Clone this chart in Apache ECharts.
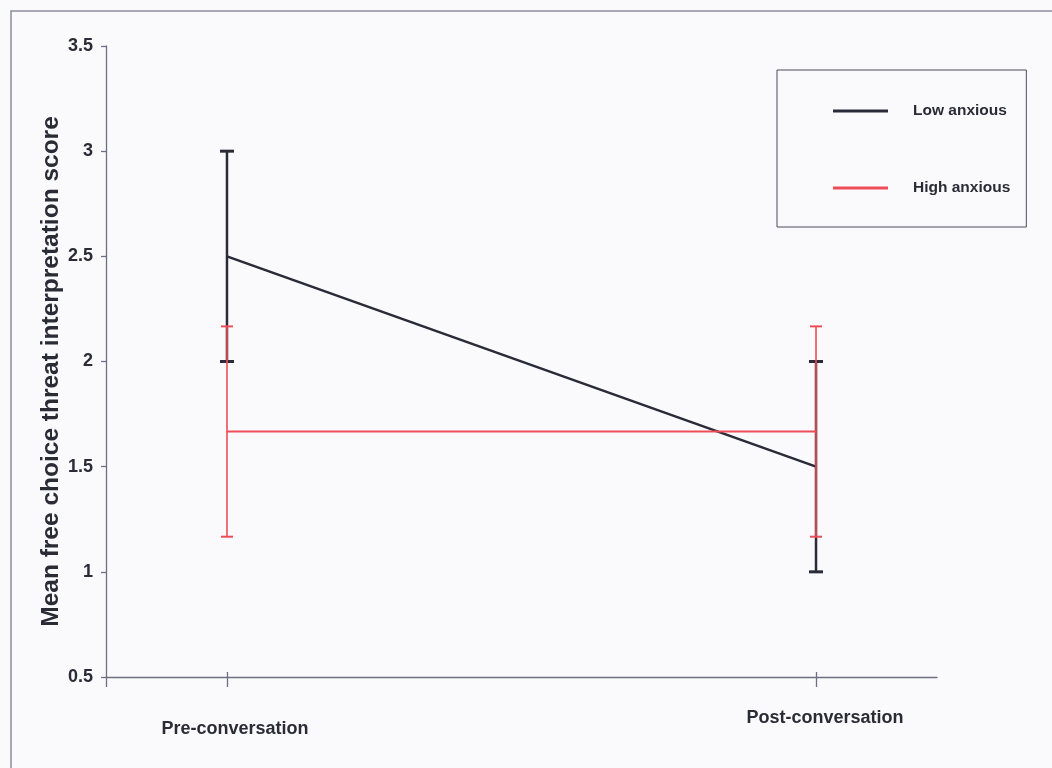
<!DOCTYPE html>
<html>
<head>
<meta charset="utf-8">
<script src="https://cdn.jsdelivr.net/npm/echarts@6/dist/echarts.min.js"></script>
<style>
  html, body { margin: 0; padding: 0; background: #fafafd; }
  #chart { width: 1052px; height: 768px; }
</style>
</head>
<body>
<div id="chart"></div>
<script>
// Conditions on the horizontal axis
const categories = ['Pre-conversation', 'Post-conversation'];
// Group names shown in the legend
const seriesNames = ['Low anxious', 'High anxious'];
// Group means and error-bar half widths per condition
const lowMeans = [2.5, 1.5];
const lowErrors = [0.5, 0.5];
const highMeans = [1.667, 1.667];
const highErrors = [0.5, 0.5];
// Vertical scale
const yMin = 0.5;
const yMax = 3.5;
const yStep = 0.5;
const yTitle = 'Mean free choice threat interpretation score';

const SANS = "'Liberation Sans', Arial, sans-serif";
const INK = '#2b2b36';
const AXIS = '#6f6f82';
const BLACK = '#2a2a38';
const RED = '#ee4d57';

// categories sit at 0 and 1 on a value axis with some room either side
const X_MIN = -0.2054;
const X_MAX = 1.2054;

const lineData = means => categories.map((c, i) => [i, means[i]]);
const barData = (means, errs) => categories.map((c, i) => [i, means[i] - errs[i], means[i] + errs[i]]);

function errorBars(color, stemWidth, capWidth, capHalf) {
  return function (params, api) {
    const x = api.value(0);
    const lo = api.coord([x, api.value(1)]);
    const hi = api.coord([x, api.value(2)]);
    const cap = p => ({
      type: 'line',
      shape: { x1: p[0] - capHalf, y1: p[1], x2: p[0] + capHalf, y2: p[1] },
      style: { stroke: color, lineWidth: capWidth }
    });
    return {
      type: 'group',
      children: [
        { type: 'line', shape: { x1: lo[0], y1: lo[1], x2: hi[0], y2: hi[1] },
          style: { stroke: color, lineWidth: stemWidth } },
        cap(lo),
        cap(hi)
      ]
    };
  };
}

const chart = echarts.init(document.getElementById('chart'), null, { renderer: 'canvas' });

chart.setOption({
  backgroundColor: '#fafafd',
  animation: false,
  graphic: [{
    type: 'rect',
    silent: true,
    z: -10,
    shape: { x: 11, y: 11, width: 1050, height: 780 },
    style: { fill: null, stroke: '#8c8c9e', lineWidth: 1.5 }
  }],
  grid: { left: 106, right: 115, top: 46, bottom: 91, containLabel: false },
  legend: {
    data: seriesNames,
    orient: 'vertical',
    left: 777,
    top: 70,
    padding: [31, 16, 29, 56],
    icon: 'rect',
    itemWidth: 55,
    itemHeight: 3,
    itemGap: 57,
    borderColor: '#4a4a58',
    borderWidth: 1,
    textStyle: { fontFamily: SANS, fontWeight: 'bold', fontSize: 15.5, lineHeight: 20, color: INK, padding: [0, 0, 0, 20] }
  },
  xAxis: [{
    type: 'value',
    min: X_MIN,
    max: X_MAX,
    position: 'bottom',
    axisLine: { show: true, onZero: false, lineStyle: { color: AXIS, width: 1.3 } },
    axisTick: { show: true, customValues: [X_MIN, 0, 1], length: 10, lineStyle: { color: AXIS, width: 1.3 } },
    splitLine: { show: false },
    axisLabel: {
      customValues: [0, 1],
      margin: 31,
      formatter: v => Math.round(v) === 0 ? '{pre|' + categories[0] + '}' : '{post|' + categories[1] + '}',
      rich: {
        pre: { fontFamily: SANS, fontWeight: 'bold', fontSize: 18, lineHeight: 20, color: INK, padding: [22, 0, 0, 16] },
        post: { fontFamily: SANS, fontWeight: 'bold', fontSize: 18, lineHeight: 20, color: INK, padding: [0, 0, 0, 18] }
      }
    }
  }, {
    type: 'value',
    min: X_MIN,
    max: X_MAX,
    position: 'bottom',
    axisLine: { show: false, onZero: false },
    axisTick: { show: true, inside: true, customValues: [0, 1], length: 5, lineStyle: { color: AXIS, width: 1.3 } },
    splitLine: { show: false },
    axisLabel: { show: false }
  }],
  yAxis: {
    type: 'value',
    min: yMin,
    max: yMax,
    interval: yStep,
    name: yTitle,
    nameLocation: 'middle',
    nameGap: 42,
    nameMoveOverlap: false,
    nameTextStyle: { fontFamily: SANS, fontWeight: 'bold', fontSize: 24.5, color: INK, padding: [0, 20, 0, 0] },
    axisLine: { show: true, onZero: false, lineStyle: { color: AXIS, width: 1.3 } },
    axisTick: { show: true, length: 5, lineStyle: { color: AXIS, width: 1.3 } },
    splitLine: { show: false },
    axisLabel: { margin: 13, fontFamily: SANS, fontWeight: 'bold', fontSize: 18, color: INK }
  },
  series: [{
    name: seriesNames[0],
    type: 'line',
    data: lineData(lowMeans),
    symbol: 'none',
    color: BLACK,
    lineStyle: { color: BLACK, width: 2.5 },
    z: 2
  }, {
    name: 'low-error',
    type: 'custom',
    data: barData(lowMeans, lowErrors),
    encode: { x: 0, y: [1, 2] },
    renderItem: errorBars(BLACK, 2.5, 3, 7),
    z: 3
  }, {
    name: seriesNames[1],
    type: 'line',
    data: lineData(highMeans),
    symbol: 'none',
    color: RED,
    lineStyle: { color: RED, width: 2 },
    z: 4
  }, {
    name: 'high-error',
    type: 'custom',
    data: barData(highMeans, highErrors),
    encode: { x: 0, y: [1, 2] },
    renderItem: errorBars(RED, 1.6, 2, 6),
    z: 5
  }]
});
</script>
</body>
</html>
